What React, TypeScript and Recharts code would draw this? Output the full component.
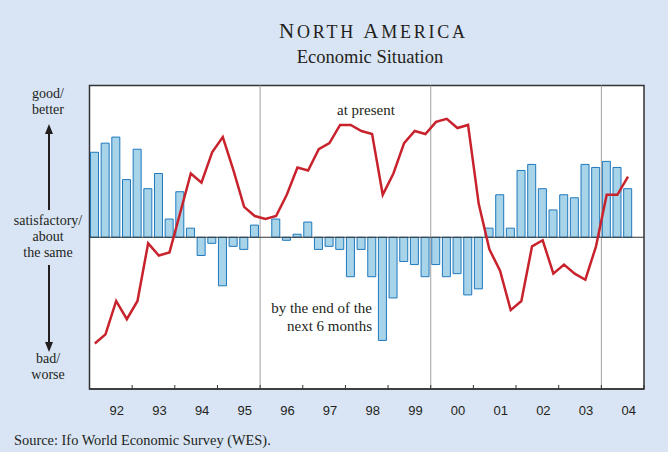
import React from "react"
import {
  ComposedChart,
  Bar,
  Line,
  XAxis,
  YAxis,
  ReferenceArea,
  ReferenceLine,
} from "recharts"

// quarterly survey balances, 1992 Q1 .. 2004 Q4 (last quarter not yet published)
const years = [1992, 1993, 1994, 1995, 1996, 1997, 1998, 1999, 2000, 2001, 2002, 2003, 2004]
const yearLabels = ["92", "93", "94", "95", "96", "97", "98", "99", "00", "01", "02", "03", "04"]
const quarterNames = ["Q1", "Q2", "Q3", "Q4"]

// expectations: by the end of the next 6 months (bars)
const expected = [
  56, 62, 66, 38,
  58, 32, 42, 12,
  30, 6, -12, -4,
  -32, -6, -8, 8,
  0, 12, -2, 2,
  10, -8, -6, -8,
  -26, -8, -26, -68,
  -40, -16, -18, -26,
  -18, -26, -24, -38,
  -34, 6, 28, 6,
  44, 48, 32, 18,
  28, 26, 48, 46,
  50, 46, 32, null,
]

// assessment: at present (line)
const present = [
  -70, -64, -42, -54,
  -42, -4, -12, -10,
  16, 42, 36, 56,
  66, 44, 20, 14,
  12, 14, 28, 46,
  44, 58, 62, 74,
  74, 70, 68, 28,
  42, 62, 70, 68,
  76, 78, 72, 74,
  22, -8, -22, -48,
  -42, -6, -2, -24,
  -18, -24, -28, -6,
  28, 28, 40, null,
]

const dividers = [1996, 2000, 2004]

const firstYear = years[0]
const lastYear = years[years.length - 1] + 1
const data = years.flatMap((y, yi) =>
  quarterNames.map((q, qi) => {
    const i = yi * 4 + qi
    return { q: `${y}${q}`, t: y + (qi + 0.5) / 4, expected: expected[i], present: present[i] }
  })
)
const yearBounds = [...years, lastYear]

const W = 668
const H = 452
const margin = { top: 85.5, right: 24, bottom: 34, left: 89.5 }
const yearPx = (W - margin.left - margin.right) / (lastYear - firstYear)

const serif = "'Liberation Serif', 'Times New Roman', Times, serif"
const sans = "'Liberation Sans', Arial, Helvetica, sans-serif"
const ink = "#231f20"

// inward tick at each year boundary, label a little right of the year's middle
const YearTick = (props: any) => {
  const { x, y, payload } = props
  const idx = years.indexOf(payload.value)
  return (
    <g>
      <line x1={x} x2={x} y1={y} y2={y - 4} stroke="#333" strokeWidth={1} />
      {idx >= 0 && (
        <text
          x={x + yearPx / 2 + 6}
          y={y + 26}
          textAnchor="middle"
          fontSize={13}
          fontFamily={sans}
          fill={ink}
        >
          {yearLabels[idx]}
        </text>
      )}
    </g>
  )
}

export default function App() {
  return (
    <div
      style={{
        position: "absolute",
        left: 0,
        top: 0,
        width: W,
        height: H,
        background: "#d9e5f4",
        overflow: "hidden",
      }}
    >
      <ComposedChart width={W} height={H} data={data} margin={margin}>
        <XAxis
          dataKey="t"
          type="number"
          domain={[firstYear, lastYear]}
          ticks={yearBounds}
          height={29}
          axisLine={{ stroke: "#333", strokeWidth: 1.5 }}
          tickLine={false}
          tickSize={0}
          tickMargin={0}
          tick={<YearTick />}
          interval={0}
          allowDataOverflow
        />
        <YAxis domain={[-100, 100]} hide allowDataOverflow />
        <ReferenceArea
          x1={firstYear}
          x2={lastYear}
          y1={-100}
          y2={100}
          fill="#ffffff"
          fillOpacity={1}
          stroke="#333"
          strokeWidth={1.5}
        />
        {dividers.map((d) => (
          <ReferenceLine key={d} x={d} stroke="#a0a0a0" strokeWidth={1} />
        ))}
        <Bar
          dataKey="expected"
          barSize={8}
          fill="#a8d4ea"
          stroke="#1f78bd"
          strokeWidth={1}
          isAnimationActive={false}
        />
        <ReferenceLine y={0} stroke="#333" strokeWidth={1} />
        <Line
          dataKey="present"
          type="linear"
          stroke="#c8232d"
          strokeWidth={2.5}
          dot={false}
          isAnimationActive={false}
          connectNulls={false}
        />
      </ComposedChart>

      <svg
        width={W}
        height={H}
        style={{ position: "absolute", left: 0, top: 0, pointerEvents: "none" }}
        fontFamily={serif}
        fill={ink}
      >
        <defs>
          <marker
            id="head"
            viewBox="0 0 10 8"
            refX="2"
            refY="4"
            markerWidth="10"
            markerHeight="8"
            orient="auto"
            markerUnits="userSpaceOnUse"
          >
            <path d="M0,0 L10,4 L0,8 Z" fill={ink} />
          </marker>
        </defs>
        <text x={372} y={38} textAnchor="middle" fontSize={21} textLength={186} lengthAdjust="spacing">
          <tspan>N</tspan>
          <tspan fontSize={18}>ORTH </tspan>
          <tspan>A</tspan>
          <tspan fontSize={18}>MERICA</tspan>
        </text>
        <text x={370} y={63} textAnchor="middle" fontSize={18.5}>
          Economic Situation
        </text>

        <g textAnchor="middle" fontSize={14}>
          <text x={48} y={98}>good/</text>
          <text x={48} y={114}>better</text>
          <text x={48} y={225}>satisfactory/</text>
          <text x={48} y={241}>about</text>
          <text x={48} y={257}>the same</text>
          <text x={48} y={363}>bad/</text>
          <text x={48} y={379}>worse</text>
        </g>
        <line x1={49} x2={49} y1={210} y2={132} stroke={ink} strokeWidth={2} markerEnd="url(#head)" />
        <line x1={49} x2={49} y1={265} y2={344} stroke={ink} strokeWidth={2} markerEnd="url(#head)" />

        <text x={337} y={115} fontSize={15}>at present</text>
        <g textAnchor="end" fontSize={15}>
          <text x={372} y={313}>by the end of the</text>
          <text x={372} y={331}>next 6 months</text>
        </g>

        <text x={14} y={445} fontSize={14.4}>
          Source: Ifo World Economic Survey (WES).
        </text>
      </svg>
    </div>
  )
}
